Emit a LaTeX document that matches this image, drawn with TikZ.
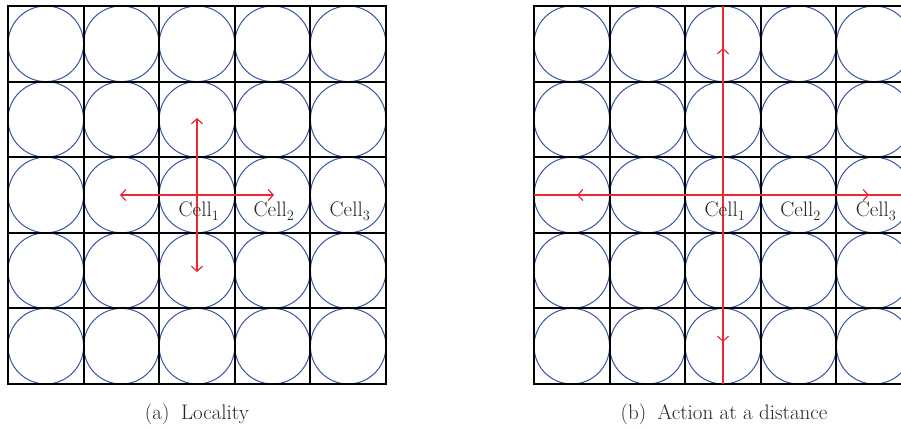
\documentclass[tikz,border=0pt]{standalone}
\usepackage{fontspec}
\usetikzlibrary{arrows.meta}
\definecolor{cblue}{RGB}{55,85,165}
\definecolor{cred}{RGB}{235,40,50}
\begin{document}
\begin{tikzpicture}[x=1pt,y=-1pt,
  gridline/.style={black,line width=2pt,line cap=rect},
  ball/.style={cblue,line width=1pt},
  ray/.style={draw=cred,line width=1.2pt},
  tipped/.style={ray,-{Straight Barb[length=5pt,width=11pt]}},
  lbl/.style={font=\fontsize{21}{23}\selectfont,anchor=base,inner sep=0pt,text=black!85}]
\useasboundingbox (0,0) rectangle (901,430);
\def\s{75.6}
% ---------- left grid (a) ----------
\begin{scope}[shift={(8,6)}]
  \foreach \i in {0,...,4} \foreach \j in {0,...,4}
    \draw[ball] ({(\i+0.5)*\s},{(\j+0.5)*\s}) circle[radius=37.8];
  \foreach \k in {0,...,5} {
    \draw[gridline] ({round(\k*\s)},0) -- ({round(\k*\s)},378);
    \draw[gridline] (0,{round(\k*\s)}) -- (378,{round(\k*\s)});
  }
\end{scope}
\coordinate (lc) at (197,195);
\coordinate (lup) at (197,118);
\coordinate (ldn) at (197,272);
\coordinate (llf) at (120,195);
\coordinate (lrt) at (274,195);
\draw[tipped] (lc) -- (lup);
\draw[tipped] (lc) -- (ldn);
\draw[tipped] (lc) -- (llf);
\draw[tipped] (lc) -- (lrt);
\node[lbl] (l1) at (199,217) {Cell$_1$};
\node[lbl] (l2) at (274,217) {Cell$_2$};
\node[lbl] (l3) at (350,217) {Cell$_3$};
\node[lbl] (capa) at (197,419) {(a)\hspace{0.55em}Locality};
% ---------- right grid (b) ----------
\begin{scope}
  \clip (0,0) rectangle (901,430);
  \begin{scope}[shift={(534,6)}]
    \foreach \i in {0,...,4} \foreach \j in {0,...,4}
      \draw[ball] ({(\i+0.5)*\s},{(\j+0.5)*\s}) circle[radius=37.8];
    \foreach \k in {0,...,5} {
      \draw[gridline] ({round(\k*\s)},0) -- ({round(\k*\s)},378);
      \draw[gridline] (0,{round(\k*\s)}) -- (378,{round(\k*\s)});
    }
  \end{scope}
  \coordinate (rc) at (723,195);
  \coordinate (rtop) at (723,6);
  \coordinate (rbot) at (723,384);
  \coordinate (rlft) at (534,195);
  \coordinate (rrgt) at (912,195);
  \coordinate (rup) at (723,48);
  \coordinate (rdn) at (723,342);
  \coordinate (rlf) at (577,195);
  \coordinate (rrt) at (869,195);
  \draw[ray] (rtop) -- (rbot);
  \draw[ray] (rlft) -- (rrgt);
  \draw[tipped] (rc) -- (rup);
  \draw[tipped] (rc) -- (rdn);
  \draw[tipped] (rc) -- (rlf);
  \draw[tipped] (rc) -- (rrt);
  \node[lbl] (r1) at (725,217) {Cell$_1$};
  \node[lbl] (r2) at (800.6,217) {Cell$_2$};
  \node[lbl] (r3) at (876.2,217) {Cell$_3$};
\end{scope}
\node[lbl] (capb) at (724,419) {(b)\hspace{0.55em}Action at a distance};
\end{tikzpicture}
\end{document}
